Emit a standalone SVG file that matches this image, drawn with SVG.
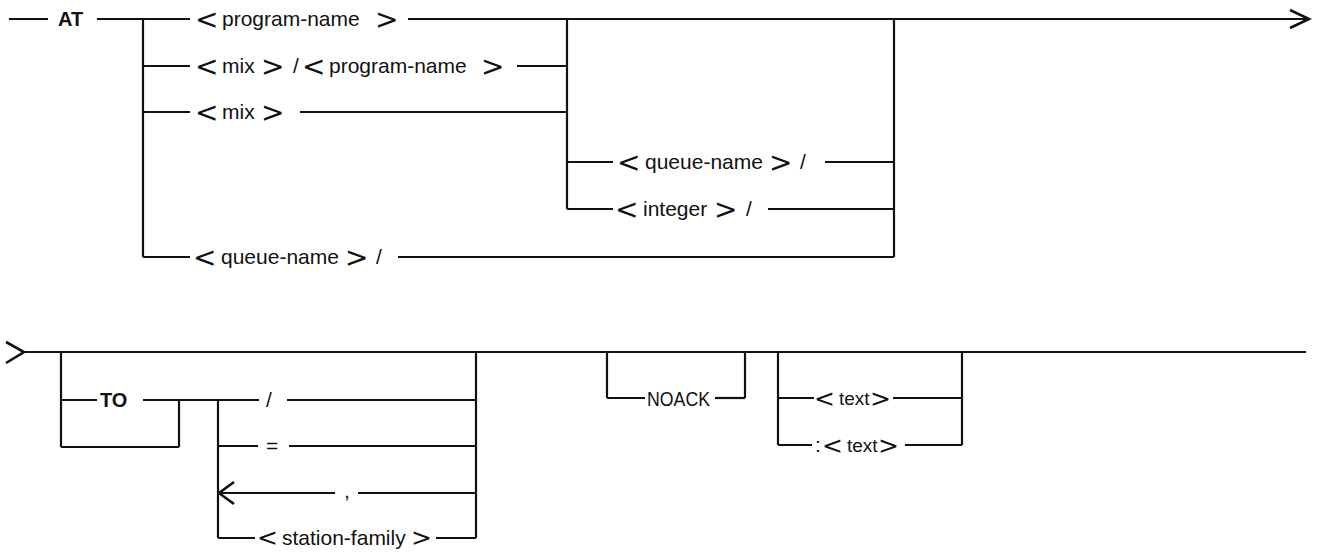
<svg xmlns="http://www.w3.org/2000/svg" width="1319" height="552" viewBox="0 0 1319 552">
<style>
.c line,.c polyline{stroke:#111;stroke-width:2.2;fill:none}
.c polyline.ah{stroke-width:2.6}
text{font-family:"Liberation Sans",Arial,sans-serif;fill:#111;font-size:21px}
.b{font-family:"DejaVu Sans",sans-serif;font-size:28px}
.bs{font-family:"DejaVu Sans",sans-serif;font-size:25px}
.k{font-weight:bold;font-size:20px}
.s{font-size:19px}
</style>
<rect width="1319" height="552" fill="#fff"/>
<g id="connectors" class="c">
<line x1="9" y1="19" x2="48" y2="19"/>
<line x1="97" y1="19" x2="190" y2="19"/>
<line x1="408" y1="19" x2="1309" y2="19"/>
<polyline class="ah" points="1290,10 1309,19 1290,28"/>
<line x1="143" y1="19" x2="143" y2="257"/>
<line x1="143" y1="66" x2="190" y2="66"/>
<line x1="517" y1="66" x2="567" y2="66"/>
<line x1="143" y1="112" x2="190" y2="112"/>
<line x1="300" y1="112" x2="567" y2="112"/>
<line x1="567" y1="19" x2="567" y2="209"/>
<line x1="567" y1="162" x2="613" y2="162"/>
<line x1="825" y1="162" x2="894" y2="162"/>
<line x1="567" y1="209" x2="613" y2="209"/>
<line x1="768" y1="209" x2="894" y2="209"/>
<line x1="894" y1="19" x2="894" y2="257"/>
<line x1="143" y1="257" x2="190" y2="257"/>
<line x1="398" y1="257" x2="894" y2="257"/>
<polyline class="ah" points="6,342 24,352 6,363"/>
<line x1="22" y1="352" x2="1306" y2="352"/>
<line x1="61" y1="352" x2="61" y2="447"/>
<line x1="61" y1="400" x2="97" y2="400"/>
<line x1="143" y1="400" x2="259" y2="400"/>
<line x1="287" y1="400" x2="476" y2="400"/>
<line x1="179" y1="400" x2="179" y2="447"/>
<line x1="61" y1="447" x2="179" y2="447"/>
<line x1="218" y1="400" x2="218" y2="538"/>
<line x1="218" y1="446" x2="258" y2="446"/>
<line x1="289" y1="446" x2="476" y2="446"/>
<line x1="218" y1="493" x2="335" y2="493"/>
<polyline class="ah" points="234,482 219,493 234,504"/>
<line x1="358" y1="493" x2="476" y2="493"/>
<line x1="218" y1="538" x2="255" y2="538"/>
<line x1="436" y1="538" x2="476" y2="538"/>
<line x1="476" y1="352" x2="476" y2="538"/>
<line x1="607" y1="352" x2="607" y2="398"/>
<line x1="607" y1="398" x2="645" y2="398"/>
<line x1="715" y1="398" x2="745" y2="398"/>
<line x1="745" y1="352" x2="745" y2="398"/>
<line x1="778" y1="352" x2="778" y2="445"/>
<line x1="778" y1="398" x2="814" y2="398"/>
<line x1="893" y1="398" x2="962" y2="398"/>
<line x1="778" y1="445" x2="812" y2="445"/>
<line x1="905" y1="445" x2="962" y2="445"/>
<line x1="962" y1="352" x2="962" y2="445"/>
</g>
<g id="n-at"><text class="k" x="58" y="26">AT</text></g>
<g id="n-program-name"><text><tspan class="b" x="195" y="29">&lt;</tspan><tspan x="222" y="26">program-name</tspan><tspan class="b" x="375" y="29">&gt;</tspan></text></g>
<g id="n-mix-program-name"><text><tspan class="b" x="195" y="76">&lt;</tspan><tspan x="222" y="73">mix</tspan><tspan class="b" x="261" y="76">&gt;</tspan><tspan x="293" y="73">/</tspan><tspan class="b" x="302" y="76">&lt;</tspan><tspan x="329" y="73">program-name</tspan><tspan class="b" x="481" y="76">&gt;</tspan></text></g>
<g id="n-mix"><text><tspan class="b" x="195" y="122">&lt;</tspan><tspan x="222" y="119">mix</tspan><tspan class="b" x="261" y="122">&gt;</tspan></text></g>
<g id="n-queue-name-1"><text><tspan class="b" x="617" y="172">&lt;</tspan><tspan x="645" y="169">queue-name</tspan><tspan class="b" x="769" y="172">&gt;</tspan><tspan x="800" y="169">/</tspan></text></g>
<g id="n-integer"><text><tspan class="b" x="615" y="219">&lt;</tspan><tspan x="643" y="216">integer</tspan><tspan class="b" x="714" y="219">&gt;</tspan><tspan x="746" y="216">/</tspan></text></g>
<g id="n-queue-name-2"><text><tspan class="b" x="193" y="267">&lt;</tspan><tspan x="221" y="264">queue-name</tspan><tspan class="b" x="345" y="267">&gt;</tspan><tspan x="376" y="264">/</tspan></text></g>
<g id="n-to"><text class="k" x="100" y="407" font-size="21">TO</text></g>
<g id="n-slash"><text x="266" y="407">/</text></g>
<g id="n-equals"><text x="266" y="453">=</text></g>
<g id="n-comma"><text x="344" y="498">,</text></g>
<g id="n-station-family"><text><tspan class="bs" x="257" y="546">&lt;</tspan><tspan x="282" y="545">station-family</tspan><tspan class="bs" x="411" y="546">&gt;</tspan></text></g>
<g id="n-noack"><text x="647" y="406" font-size="22" textLength="63" lengthAdjust="spacingAndGlyphs">NOACK</text></g>
<g id="n-text"><text><tspan class="bs" x="814" y="407">&lt;</tspan><tspan class="s" x="839" y="405">text</tspan><tspan class="bs" x="870" y="407">&gt;</tspan></text></g>
<g id="n-colon-text"><text><tspan x="815" y="452">:</tspan><tspan class="bs" x="822" y="454">&lt;</tspan><tspan class="s" x="847" y="452">text</tspan><tspan class="bs" x="878" y="454">&gt;</tspan></text></g>
</svg>
